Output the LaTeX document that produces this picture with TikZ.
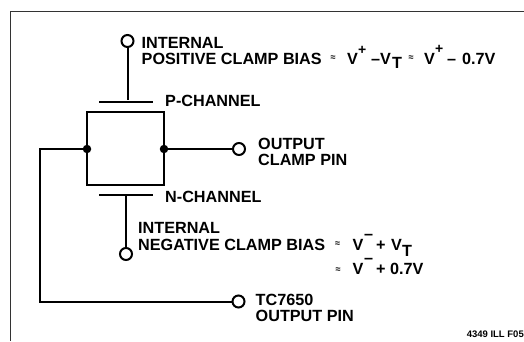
\documentclass[tikz,border=0pt]{standalone}
\usepackage{fontspec}
\setmainfont{Liberation Sans}
\newcommand{\lf}{\fontsize{16.2}{16.3}\selectfont\bfseries}
\tikzset{
  wire/.style={line width=2pt,black},
  term/.style={circle,draw=black,line width=2pt,fill=white,minimum size=12pt,inner sep=0pt},
  junct/.style={circle,fill=black,minimum size=8.5pt,inner sep=0pt},
  gatebar/.style={fill=black,minimum width=54pt,minimum height=2pt,inner sep=0pt},
  lab/.style={inner sep=0pt,anchor=base west,font=\lf},
  lab2/.style={inner sep=0pt,anchor=north west,align=left,font=\lf},
  sym/.style={inner sep=0pt,anchor=base west,font=\fontsize{14}{14}\selectfont\bfseries},
  approx/.style={inner sep=0pt,anchor=center,font=\fontsize{9}{9}\selectfont\bfseries}
}
\begin{document}
\begin{tikzpicture}[x=1pt,y=-1pt]
\useasboundingbox (0,0) rectangle (524,341);
% frame
\coordinate (ftr) at (524,11.5);
\coordinate (ftl) at (10.5,11.5);
\coordinate (fbl) at (10.5,341);
\draw[line width=0.8pt,black!80] (ftr) -- (ftl) -- (fbl);
% transistors
\node[gatebar] (gp) at (126,101.5) {};
\node[gatebar] (gn) at (126,194.7) {};
\node[junct] (dl) at (87,149) {};
\node[junct] (dr) at (164,149) {};
\coordinate (btl) at (87,112);
\coordinate (btr) at (164,112);
\coordinate (bbl) at (87,184.5);
\coordinate (bbr) at (164,184.5);
\coordinate (cor) at (39.5,149);
\coordinate (cob) at (39.5,301.5);
\node[term] (tp) at (127.5,41) {};
\node[term] (tn) at (126,254) {};
\node[term] (to) at (239,149) {};
\node[term] (tt) at (238.5,301.5) {};
\draw[wire,line join=miter] (btl) rectangle (bbr);
\draw[wire] (tp) -- (tp |- gp.north);
\draw[wire] (tn) -- (tn |- gn.south);
\draw[wire] (dr) -- (to);
\draw[wire] (dl) -- (cor) -- (cob) -- (tt);
% labels
\node[lab2] (l1) at (141.5,37) {INTERNAL\\POSITIVE CLAMP BIAS};
\node[lab] (l2) at (165,106) {P-CHANNEL};
\node[lab2] (l3) at (258,137.5) {OUTPUT\\CLAMP PIN};
\node[lab] (l4) at (165,202) {N-CHANNEL};
\node[lab2] (l5) at (138,222.5) {INTERNAL\\NEGATIVE CLAMP BIAS};
\node[lab2] (l6) at (255.5,294) {TC7650\\OUTPUT PIN};
% upper equation
\node[approx] (a1) at (333,58.5) {≈};
\node[lab] (e1) at (347,64) {V};
\node[sym] (e2) at (358,54) {+};
\node[lab] (e3) at (371,64) {–V};
\node[lab] (e4) at (392,68.5) {T};
\node[approx] (a2) at (411,58.5) {≈};
\node[lab] (e5) at (424,64) {V};
\node[sym] (e6) at (435,53) {+};
\node[lab] (e7) at (447,64) {–};
\node[lab] (e8) at (462,64) {0.7V};
% lower equation
\node[approx] (a3) at (337.5,244.5) {≈};
\node[lab] (f1) at (352.5,250) {V};
\node[lab] (f2) at (364,239) {–};
\node[lab] (f3) at (376,250) {+};
\node[lab] (f4) at (391,250) {V};
\node[lab] (f5) at (402,256) {T};
\node[approx] (a4) at (338,270) {≈};
\node[lab] (g1) at (352.5,274) {V};
\node[lab] (g2) at (364,263) {–};
\node[lab] (g3) at (376,274) {+};
\node[lab] (g4) at (390,274) {0.7V};
\node[inner sep=0pt,anchor=base east,font=\fontsize{9.5}{9.5}\selectfont\bfseries] (ref) at (524,337) {4349 ILL F05};
\end{tikzpicture}
\end{document}
